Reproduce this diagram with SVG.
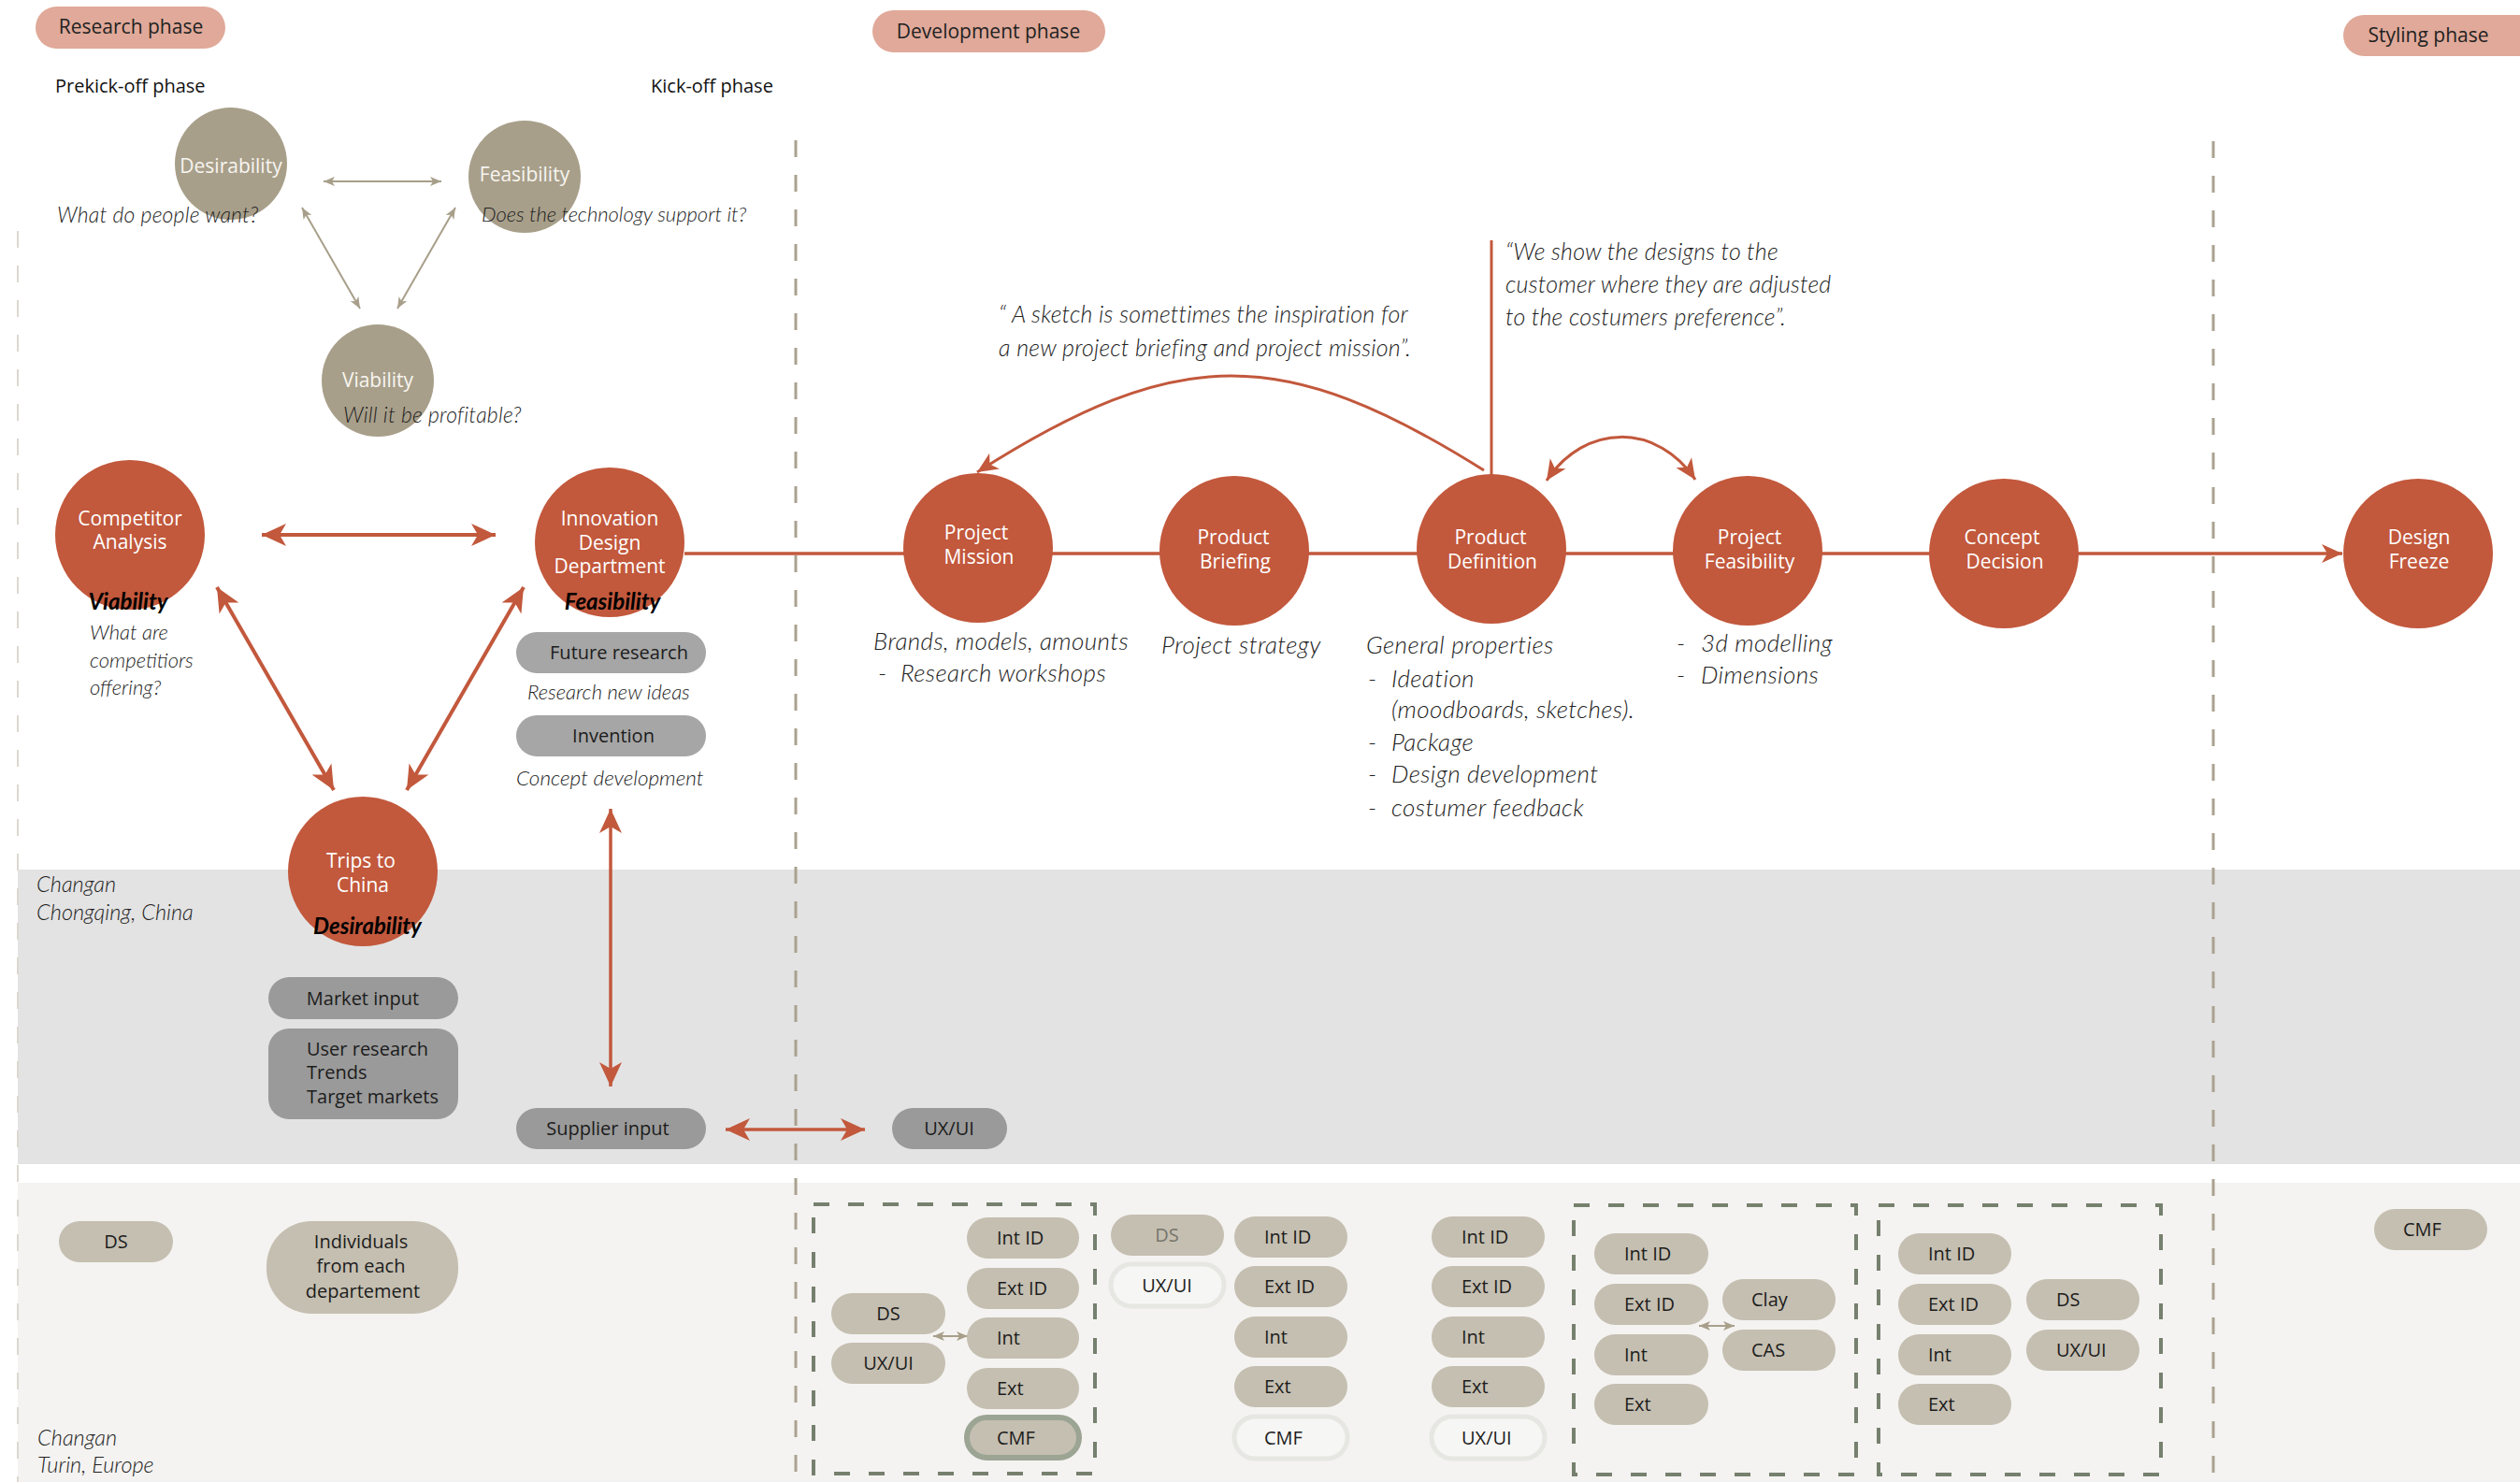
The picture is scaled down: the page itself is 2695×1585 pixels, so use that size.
<svg xmlns="http://www.w3.org/2000/svg" width="2695" height="1585" viewBox="0 0 2695 1585">
<style>
  text{font-family:"Open Sans","Liberation Sans",sans-serif}
  .lbl{font-size:20px;fill:#1c1c1c}
  .mid{text-anchor:middle}
  .phase rect{fill:#e0a999}
  .phase text{font-size:21px;fill:#222;text-anchor:middle}
  .red{fill:#c2583c}
  .tanc{fill:#a89f8a}
  .cw{fill:#fff;font-size:21px;text-anchor:middle}
  .cw2{fill:#f7f5f0;font-size:21px;text-anchor:middle}
  .it{font-family:Lato,"Open Sans",sans-serif;font-style:italic;font-weight:300;fill:#222}
  .note{font-size:26px;letter-spacing:0.4px}
  .quote{font-size:25px;letter-spacing:0.2px}
  .ask{font-size:23px;letter-spacing:0.2px}
  .bi{font-family:Lato,"Open Sans",sans-serif;font-style:italic;font-weight:700;font-size:24px;fill:#000;text-anchor:middle}
  .pg{fill:#9a9a9a}
  .pg2{fill:#a6a6a6}
  .pt{fill:#c5bfb1}
  .po{fill:#f6f6f4;stroke:#e6e6e2;stroke-width:5}
  .pcmf{fill:#c5bfb1;stroke:#9ca594;stroke-width:6}
  .rl{stroke:#c2583c;fill:none}
  .tl{stroke:#a89f8a;fill:none;stroke-width:2}
  .vdash{stroke:#aaa290;stroke-width:3;stroke-dasharray:18 19;fill:none}
  .box{fill:none;stroke:#76806e;stroke-width:4;stroke-dasharray:17 20}
</style>
<defs>
  <marker id="ahRed" markerUnits="userSpaceOnUse" viewBox="0 -13 27 26" markerWidth="27" markerHeight="26" refX="26" refY="0" orient="auto-start-reverse">
    <path d="M0,-12 L26,0 L0,12 L7,0 Z" fill="#c2583c"/>
  </marker>
  <marker id="ahRedS" markerUnits="userSpaceOnUse" viewBox="0 -11 23 22" markerWidth="23" markerHeight="22" refX="22" refY="0" orient="auto-start-reverse">
    <path d="M0,-10 L22,0 L0,10 L6,0 Z" fill="#c2583c"/>
  </marker>
  <marker id="ahTan" markerUnits="userSpaceOnUse" viewBox="0 -6 13 12" markerWidth="13" markerHeight="12" refX="12" refY="0" orient="auto-start-reverse">
    <path d="M0,-5 L12,0 L0,5 L3,0 Z" fill="#a89f8a"/>
  </marker>
</defs>

<rect width="2695" height="1585" fill="#fff"/>

<!-- location bands -->
<rect x="19" y="930" width="2676" height="315" fill="#e3e3e3"/>
<rect x="19" y="1265" width="2676" height="320" fill="#f4f3f1"/>

<!-- phase separators -->
<g id="separators">
  <line x1="19" y1="247" x2="19" y2="1585" stroke="#dcd8d0" stroke-width="2" stroke-dasharray="18 19"/>
  <line class="vdash" x1="851" y1="150" x2="851" y2="1585"/>
  <line class="vdash" x1="2367" y1="151" x2="2367" y2="1585"/>
</g>

<!-- phase headers -->
<g id="phase-research" class="phase"><rect x="38" y="7" width="203" height="45" rx="22.5"/><text x="140" y="36">Research phase</text></g>
<g id="phase-development" class="phase"><rect x="933" y="11" width="249" height="45" rx="22.5"/><text x="1057" y="41">Development phase</text></g>
<g id="phase-styling" class="phase"><rect x="2506" y="16" width="220" height="44" rx="22"/><text x="2597" y="45">Styling phase</text></g>
<text x="59" y="99" font-size="20" fill="#111">Prekick-off phase</text>
<text x="696" y="99" font-size="20" fill="#111">Kick-off phase</text>

<!-- connectors -->
<g id="connectors">
  <line class="tl" x1="346" y1="194" x2="472" y2="194" marker-start="url(#ahTan)" marker-end="url(#ahTan)"/>
  <line class="tl" x1="323" y1="222" x2="385" y2="330" marker-start="url(#ahTan)" marker-end="url(#ahTan)"/>
  <line class="tl" x1="487" y1="222" x2="425" y2="330" marker-start="url(#ahTan)" marker-end="url(#ahTan)"/>

  <line class="rl" stroke-width="4" x1="280" y1="572" x2="530" y2="572" marker-start="url(#ahRed)" marker-end="url(#ahRed)"/>
  <line class="rl" stroke-width="4" x1="232" y1="628" x2="357" y2="845" marker-start="url(#ahRed)" marker-end="url(#ahRed)"/>
  <line class="rl" stroke-width="4" x1="560" y1="628" x2="435" y2="845" marker-start="url(#ahRed)" marker-end="url(#ahRed)"/>
  <line class="rl" stroke-width="3.5" x1="653" y1="865" x2="653" y2="1162" marker-start="url(#ahRed)" marker-end="url(#ahRed)"/>
  <line class="rl" stroke-width="3.5" x1="776" y1="1208" x2="925" y2="1208" marker-start="url(#ahRed)" marker-end="url(#ahRed)"/>

  <line class="rl" stroke-width="3.5" x1="732" y1="592" x2="2505" y2="592" marker-end="url(#ahRedS)"/>
  <line class="rl" stroke-width="3" x1="1595" y1="257" x2="1595" y2="508"/>
  <path class="rl" stroke-width="3" d="M1587,503 C1372,368 1260,368 1045,505" marker-end="url(#ahRedS)"/>
  <path class="rl" stroke-width="3" d="M1654,514 C1695,452 1772,452 1813,513" marker-start="url(#ahRedS)" marker-end="url(#ahRedS)"/>

  <line class="tl" x1="998" y1="1429" x2="1035" y2="1429" marker-start="url(#ahTan)" marker-end="url(#ahTan)"/>
  <line class="tl" x1="1817" y1="1418" x2="1855" y2="1418" marker-start="url(#ahTan)" marker-end="url(#ahTan)"/>
</g>

<!-- prekick-off triangle -->
<g id="desirability">
  <circle class="tanc" cx="247" cy="175" r="60"/>
  <text class="cw2" x="247" y="185">Desirability</text>
  <text class="it ask" x="61" y="238">What do people want?</text>
</g>
<g id="feasibility">
  <circle class="tanc" cx="561" cy="189" r="60"/>
  <text class="cw2" x="561" y="194">Feasibility</text>
  <text class="it" x="515" y="237" font-size="22">Does the technology support it?</text>
</g>
<g id="viability">
  <circle class="tanc" cx="404" cy="407" r="60"/>
  <text class="cw2" x="404" y="414">Viability</text>
  <text class="it ask" x="367" y="452">Will it be profitable?</text>
</g>

<!-- kick-off triangle -->
<g id="competitor-analysis">
  <circle class="red" cx="139" cy="572" r="80"/>
  <text class="cw" x="139" y="562">Competitor</text>
  <text class="cw" x="139" y="587">Analysis</text>
  <text class="bi" x="137" y="652">Viability</text>
  <text class="it" font-size="22"><tspan x="96" y="684">What are</tspan><tspan x="96" y="714">competitiors</tspan><tspan x="96" y="743">offering?</tspan></text>
</g>
<g id="innovation-design-department">
  <circle class="red" cx="652" cy="580" r="80"/>
  <text class="cw" x="652" y="562">Innovation</text>
  <text class="cw" x="652" y="588">Design</text>
  <text class="cw" x="652" y="613">Department</text>
  <text class="bi" x="655" y="652">Feasibility</text>
</g>
<g id="future-research">
  <rect class="pg2" x="552" y="676" width="203" height="44" rx="22"/>
  <text class="lbl mid" x="662" y="705">Future research</text>
  <text class="it" x="564" y="748" font-size="22">Research new ideas</text>
</g>
<g id="invention">
  <rect class="pg2" x="552" y="765" width="203" height="44" rx="22"/>
  <text class="lbl mid" x="656" y="794">Invention</text>
  <text class="it" x="552" y="840" font-size="22.5">Concept development</text>
</g>
<g id="trips-to-china">
  <circle class="red" cx="388" cy="932" r="80"/>
  <text class="cw" x="386" y="928">Trips to</text>
  <text class="cw" x="388" y="954">China</text>
  <text class="bi" x="393" y="999">Desirability</text>
</g>

<!-- Chongqing band -->
<text class="it" font-size="23.5"><tspan x="39" y="954">Changan</tspan><tspan x="39" y="984">Chongqing, China</tspan></text>
<g id="market-input">
  <rect class="pg" x="287" y="1045" width="203" height="45" rx="22.5"/>
  <text class="lbl mid" x="388" y="1075">Market input</text>
</g>
<g id="user-research">
  <rect class="pg" x="287" y="1100" width="203" height="97" rx="22"/>
  <text class="lbl"><tspan x="328" y="1129">User research</tspan><tspan x="328" y="1154">Trends</tspan><tspan x="328" y="1180">Target markets</tspan></text>
</g>
<g id="supplier-input">
  <rect class="pg" x="552" y="1185" width="203" height="44" rx="22"/>
  <text class="lbl mid" x="650" y="1214">Supplier input</text>
</g>
<g id="uxui-supplier">
  <rect class="pg" x="954" y="1185" width="123" height="44" rx="22"/>
  <text class="lbl mid" x="1015" y="1214">UX/UI</text>
</g>

<!-- development milestones -->
<g id="project-mission">
  <circle class="red" cx="1046" cy="586" r="80"/>
  <text class="cw" x="1044" y="577">Project</text>
  <text class="cw" x="1047" y="603">Mission</text>
  <text class="it note" x="934" y="695">Brands, models, amounts</text>
  <text class="it note" x="939" y="729">-</text>
  <text class="it note" x="963" y="729">Research workshops</text>
</g>
<g id="product-briefing">
  <circle class="red" cx="1320" cy="589" r="80"/>
  <text class="cw" x="1319" y="582">Product</text>
  <text class="cw" x="1321" y="608">Briefing</text>
  <text class="it note" x="1242" y="699">Project strategy</text>
</g>
<g id="product-definition">
  <circle class="red" cx="1595" cy="587" r="80"/>
  <text class="cw" x="1594" y="582">Product</text>
  <text class="cw" x="1596" y="608">Definition</text>
  <text class="it note">
    <tspan x="1461" y="699">General properties</tspan>
    <tspan x="1463" y="735">-</tspan><tspan x="1488" y="735">Ideation</tspan>
    <tspan x="1488" y="768">(moodboards, sketches).</tspan>
    <tspan x="1463" y="803">-</tspan><tspan x="1488" y="803">Package</tspan>
    <tspan x="1463" y="837">-</tspan><tspan x="1488" y="837">Design development</tspan>
    <tspan x="1463" y="873">-</tspan><tspan x="1488" y="873">costumer feedback</tspan>
  </text>
</g>
<g id="project-feasibility">
  <circle class="red" cx="1869" cy="589" r="80"/>
  <text class="cw" x="1871" y="582">Project</text>
  <text class="cw" x="1871" y="608">Feasibility</text>
  <text class="it note">
    <tspan x="1793" y="697">-</tspan><tspan x="1819" y="697">3d modelling</tspan>
    <tspan x="1793" y="731">-</tspan><tspan x="1819" y="731">Dimensions</tspan>
  </text>
</g>
<g id="concept-decision">
  <circle class="red" cx="2143" cy="592" r="80"/>
  <text class="cw" x="2141" y="582">Concept</text>
  <text class="cw" x="2144" y="608">Decision</text>
</g>
<g id="design-freeze">
  <circle class="red" cx="2586" cy="592" r="80"/>
  <text class="cw" x="2587" y="582">Design</text>
  <text class="cw" x="2587" y="608">Freeze</text>
</g>

<!-- quotes -->
<text class="it quote"><tspan x="1068" y="345">“ A sketch is somettimes the inspiration for</tspan><tspan x="1068" y="381">a new project briefing and project mission”.</tspan></text>
<text class="it quote"><tspan x="1610" y="278">“We show the designs to the</tspan><tspan x="1610" y="313">customer where they are adjusted</tspan><tspan x="1610" y="348">to the costumers preference”.</tspan></text>

<!-- Turin band -->
<text class="it" font-size="23.5"><tspan x="40" y="1546">Changan</tspan><tspan x="40" y="1575">Turin, Europe</tspan></text>
<g id="ds-prekickoff">
  <rect class="pt" x="63" y="1306" width="122" height="44" rx="22"/>
  <text class="lbl mid" x="124" y="1335">DS</text>
</g>
<g id="individuals">
  <rect class="pt" x="285" y="1306" width="205" height="99" rx="48"/>
  <text class="lbl mid"><tspan x="386" y="1335">Individuals</tspan><tspan x="386" y="1361">from each</tspan><tspan x="388" y="1388">departement</tspan></text>
</g>

<g id="team-mission">
  <rect class="box" x="870" y="1288" width="301" height="288"/>
  <rect class="pt" x="889" y="1383" width="122" height="44" rx="22"/><text class="lbl mid" x="950" y="1412">DS</text>
  <rect class="pt" x="889" y="1436" width="122" height="44" rx="22"/><text class="lbl mid" x="950" y="1465">UX/UI</text>
  <rect class="pt" x="1034" y="1302" width="120" height="44" rx="22"/><text class="lbl" x="1066" y="1331">Int ID</text>
  <rect class="pt" x="1034" y="1356" width="120" height="44" rx="22"/><text class="lbl" x="1066" y="1385">Ext ID</text>
  <rect class="pt" x="1034" y="1409" width="120" height="44" rx="22"/><text class="lbl" x="1066" y="1438">Int</text>
  <rect class="pt" x="1034" y="1463" width="120" height="44" rx="22"/><text class="lbl" x="1066" y="1492">Ext</text>
  <rect class="pcmf" x="1034" y="1516" width="120" height="43" rx="21.5"/><text class="lbl" x="1066" y="1545">CMF</text>
</g>

<g id="team-briefing">
  <rect class="pt" x="1188" y="1299" width="121" height="44" rx="22"/><text class="lbl mid" x="1248" y="1328" style="fill:#77756c">DS</text>
  <rect class="po" x="1188" y="1352" width="121" height="45" rx="22.5"/><text class="lbl mid" x="1248" y="1382">UX/UI</text>
  <rect class="pt" x="1320" y="1301" width="121" height="44" rx="22"/><text class="lbl" x="1352" y="1330">Int ID</text>
  <rect class="pt" x="1320" y="1354" width="121" height="44" rx="22"/><text class="lbl" x="1352" y="1383">Ext ID</text>
  <rect class="pt" x="1320" y="1408" width="121" height="44" rx="22"/><text class="lbl" x="1352" y="1437">Int</text>
  <rect class="pt" x="1320" y="1461" width="121" height="44" rx="22"/><text class="lbl" x="1352" y="1490">Ext</text>
  <rect class="po" x="1320" y="1515" width="121" height="45" rx="22.5"/><text class="lbl" x="1352" y="1545">CMF</text>
</g>

<g id="team-definition">
  <rect class="pt" x="1531" y="1301" width="121" height="44" rx="22"/><text class="lbl" x="1563" y="1330">Int ID</text>
  <rect class="pt" x="1531" y="1354" width="121" height="44" rx="22"/><text class="lbl" x="1563" y="1383">Ext ID</text>
  <rect class="pt" x="1531" y="1408" width="121" height="44" rx="22"/><text class="lbl" x="1563" y="1437">Int</text>
  <rect class="pt" x="1531" y="1461" width="121" height="44" rx="22"/><text class="lbl" x="1563" y="1490">Ext</text>
  <rect class="po" x="1531" y="1515" width="121" height="45" rx="22.5"/><text class="lbl" x="1563" y="1545">UX/UI</text>
</g>

<g id="team-feasibility">
  <rect class="box" x="1683" y="1289" width="302" height="288"/>
  <rect class="pt" x="1705" y="1319" width="122" height="44" rx="22"/><text class="lbl" x="1737" y="1348">Int ID</text>
  <rect class="pt" x="1705" y="1373" width="122" height="44" rx="22"/><text class="lbl" x="1737" y="1402">Ext ID</text>
  <rect class="pt" x="1705" y="1427" width="122" height="44" rx="22"/><text class="lbl" x="1737" y="1456">Int</text>
  <rect class="pt" x="1705" y="1480" width="122" height="44" rx="22"/><text class="lbl" x="1737" y="1509">Ext</text>
  <rect class="pt" x="1842" y="1368" width="121" height="44" rx="22"/><text class="lbl" x="1873" y="1397">Clay</text>
  <rect class="pt" x="1842" y="1422" width="121" height="44" rx="22"/><text class="lbl" x="1873" y="1451">CAS</text>
</g>

<g id="team-concept">
  <rect class="box" x="2009" y="1289" width="302" height="288"/>
  <rect class="pt" x="2030" y="1319" width="121" height="44" rx="22"/><text class="lbl" x="2062" y="1348">Int ID</text>
  <rect class="pt" x="2030" y="1373" width="121" height="44" rx="22"/><text class="lbl" x="2062" y="1402">Ext ID</text>
  <rect class="pt" x="2030" y="1427" width="121" height="44" rx="22"/><text class="lbl" x="2062" y="1456">Int</text>
  <rect class="pt" x="2030" y="1480" width="121" height="44" rx="22"/><text class="lbl" x="2062" y="1509">Ext</text>
  <rect class="pt" x="2167" y="1368" width="121" height="44" rx="22"/><text class="lbl" x="2199" y="1397">DS</text>
  <rect class="pt" x="2167" y="1422" width="121" height="44" rx="22"/><text class="lbl" x="2199" y="1451">UX/UI</text>
</g>

<g id="team-styling">
  <rect class="pt" x="2539" y="1293" width="121" height="44" rx="22"/><text class="lbl" x="2570" y="1322">CMF</text>
</g>
</svg>
